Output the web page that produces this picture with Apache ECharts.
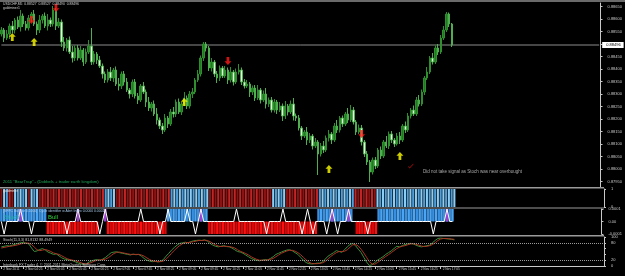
<!DOCTYPE html>
<html><head><meta charset="utf-8">
<script src="https://cdn.jsdelivr.net/npm/echarts@6/dist/echarts.min.js"></script>
<style>html,body{margin:0;padding:0;background:#000;overflow:hidden}#c{width:625px;height:276px}</style>
</head><body><div id="c"></div>
<script>
// prices stored in points (1 point = 0.00001)
const POINT = 0.00001;
const TOTAL_SLOTS = 220;
const openPts = [88540,88556,88524,88540,88572,88556,88596,88568,88612,88580,
 88564,88604,88620,88580,88556,88596,88612,88572,88596,88580,
 88636,88572,88588,88508,88484,88516,88468,88444,88484,88444,
 88476,88428,88468,88492,88428,88460,88436,88412,88380,88356,
 88388,88364,88396,88340,88332,88380,88348,88316,88300,88348,
 88292,88276,88332,88308,88268,88244,88260,88220,88196,88172,
 88156,88204,88180,88228,88220,88268,88228,88260,88284,88252,
 88300,88308,88356,88380,88444,88500,88484,88404,88428,88380,
 88364,88404,88372,88396,88356,88388,88348,88388,88396,88348,
 88332,88340,88308,88324,88284,88316,88276,88300,88260,88276,
 88236,88268,88236,88252,88212,88252,88228,88260,88212,88204,
 88164,88132,88148,88116,88132,88092,88108,88060,88092,88076,
 88124,88140,88116,88172,88156,88204,88180,88220,88196,88236,
 88188,88148,88164,88108,88060,88028,87988,88036,88012,88076,
 88052,88108,88092,88140,88116,88100,88132,88116,88172,88156,
 88212,88236,88220,88276,88260,88308,88364,88388,88444,88428,
 88484,88468,88524,88556,88620,88580];
const highPts = [88568,88564,88556,88582,88592,88604,88610,88636,88622,88592,
 88616,88628,88636,88590,88616,88620,88626,88620,88606,88652,
 88644,88604,88598,88528,88524,88530,88492,88494,88496,88492,
 88484,88482,88516,88564,88472,88468,88452,88422,88390,88400,
 88408,88404,88410,88364,88390,88392,88364,88324,88358,88360,
 88304,88340,88348,88318,88288,88268,88274,88244,88206,88184,
 88220,88212,88240,88248,88278,88282,88268,88308,88294,88312,
 88324,88364,88396,88454,88508,88508,88492,88444,88436,88392,
 88414,88412,88412,88406,88408,88396,88402,88420,88406,88360,
 88356,88348,88334,88336,88336,88324,88314,88324,88286,88288,
 88280,88276,88268,88262,88272,88260,88274,88284,88222,88216,
 88172,88156,88168,88144,88140,88124,88116,88104,88112,88134,
 88156,88148,88184,88196,88212,88214,88228,88244,88256,88248,
 88196,88178,88176,88116,88072,88036,88046,88048,88084,88090,
 88116,88132,88150,88152,88124,88144,88148,88180,88190,88224,
 88244,88254,88288,88296,88318,88372,88408,88452,88464,88494,
 88500,88536,88572,88628,88626,88584];
const lowPts = [88530,88508,88516,88520,88544,88542,88560,88550,88568,88554,
 88554,88588,88572,88536,88544,88582,88564,88554,88568,88570,
 88556,88564,88488,88472,88470,88460,88426,88432,88434,88436,
 88412,88420,88460,88416,88418,88420,88404,88362,88344,88346,
 88352,88348,88332,88314,88320,88334,88308,88282,88288,88282,
 88260,88268,88300,88248,88232,88230,88212,88178,88160,88140,
 88148,88164,88172,88206,88208,88220,88216,88252,88240,88242,
 88284,88300,88348,88370,88432,88470,88392,88390,88368,88344,
 88352,88364,88364,88340,88346,88334,88340,88378,88336,88322,
 88324,88288,88296,88272,88276,88262,88268,88242,88248,88226,
 88226,88220,88228,88192,88200,88214,88220,88194,88192,88154,
 88116,88124,88096,88104,88078,88084,87976,88050,88064,88068,
 88110,88100,88108,88144,88146,88168,88172,88184,88188,88178,
 88136,88140,88094,88048,88016,87948,87978,88000,88004,88040,
 88044,88084,88080,88104,88088,88094,88100,88108,88144,88148,
 88202,88212,88212,88250,88252,88296,88356,88380,88418,88420,
 88456,88460,88516,88548,88568,88488];
const closePts = [88556,88524,88540,88572,88556,88596,88568,88612,88580,88564,
 88604,88620,88580,88556,88596,88612,88572,88596,88580,88636,
 88572,88588,88508,88484,88516,88468,88444,88484,88444,88476,
 88428,88468,88492,88428,88460,88436,88412,88380,88356,88388,
 88364,88396,88340,88332,88380,88348,88316,88300,88348,88292,
 88276,88332,88308,88268,88244,88260,88220,88196,88172,88156,
 88204,88180,88228,88220,88268,88228,88260,88284,88252,88300,
 88308,88356,88380,88444,88500,88484,88404,88428,88380,88364,
 88404,88372,88396,88356,88388,88348,88388,88396,88348,88332,
 88340,88308,88324,88284,88316,88276,88300,88260,88276,88236,
 88268,88236,88252,88212,88252,88228,88260,88212,88204,88164,
 88132,88148,88116,88132,88092,88108,88060,88092,88076,88124,
 88140,88116,88172,88156,88204,88180,88220,88196,88236,88188,
 88148,88164,88108,88060,88028,87988,88036,88012,88076,88052,
 88108,88092,88140,88116,88100,88132,88116,88172,88156,88212,
 88236,88220,88276,88260,88308,88364,88388,88444,88428,88484,
 88468,88524,88556,88620,88580,88496];

// signal arrows
const buyIdx = [4, 12, 67, 120, 146];
const buyPts = [88528, 88508, 88268, 88000, 88052];
const sellIdx = [11, 20, 83, 132];
const sellPts = [88596, 88644, 88432, 88140];
const checkIdx = [150];
const checkPts = [88012];

// time-axis tick labels (every 8 bars)
const tickLabels = ["2 Nov 2011","2 Nov 04:25","2 Nov 05:05","2 Nov 05:45","2 Nov 06:25","2 Nov 07:05",
 "2 Nov 07:45","2 Nov 08:25","2 Nov 09:05","2 Nov 09:45","2 Nov 10:25","2 Nov 11:05","2 Nov 11:45",
 "2 Nov 12:25","2 Nov 13:05","2 Nov 13:45","2 Nov 14:25","2 Nov 15:05","2 Nov 15:45","2 Nov 16:25","2 Nov 17:05"];
const TICK_EVERY = 8;

// panel 2 (pinbar) state runs: B = blue (bull), R = red (bear)
const pinbarRuns = [["R",1],["B",2],["R",2],["B",5],["R",1],["B",3],["R",24],["B",4],["R",20],
 ["B",14],["R",23],["B",5],["R",12],["B",13],["R",8],["B",29]];
// panel 3 (cycle identifier) histogram runs: B = +, R = -, N = none
const cycleRuns = [["B",17],["R",19],["N",3],["R",22],["B",15],["R",40],["B",13],["N",1],["R",8],["B",28]];
const zigUpIdx = [7, 28, 38, 51, 61, 68, 73, 86, 103, 112, 121, 127, 163];
const zigDownIdx = [1, 11, 24, 36, 58, 71, 97, 110, 114, 119, 123, 134, 158];
const purpleIdx = [7, 28, 38, 73, 121, 127, 163];

// stochastic (main, signal)
const stochMain = [66,68,70,69,72,75,78,80,81,79,
 76,62,50,52,57,60,55,48,44,40,
 42,35,28,24,22,20,18,14,10,7,
 5,8,14,18,21,22,20,24,30,38,
 46,48,49,46,44,42,40,38,41,39,
 40,34,26,20,17,15,16,14,16,22,
 34,44,55,64,72,78,80,82,80,84,
 87,88,89,88,90,86,78,72,68,66,
 68,70,67,66,62,56,50,48,44,38,
 32,26,22,20,18,20,22,21,26,32,
 40,44,48,52,55,56,52,46,40,30,
 20,12,8,7,8,10,10,14,24,34,
 40,46,53,50,47,56,66,74,78,70,
 58,47,30,14,2,4,12,20,26,32,
 40,46,52,60,68,66,70,74,76,78,
 76,72,68,66,68,70,72,80,88,95,
 96,95,94,93,92,90];
const stochSignal = [62,64,66,68,69,71,73,76,78,79,
 79,74,65,56,53,55,57,54,50,45,
 42,40,35,30,25,22,20,18,15,11,
 8,7,9,13,17,20,21,22,24,29,
 36,43,47,48,46,44,42,40,40,40,
 40,38,34,28,22,18,16,15,15,17,
 24,33,44,54,63,71,77,80,81,82,
 84,86,88,88,89,88,84,78,73,69,
 67,68,68,67,65,62,56,51,47,43,
 38,32,27,23,20,20,20,21,23,26,
 32,38,44,48,52,54,54,51,46,39,
 30,21,13,9,8,8,9,11,16,24,
 33,40,46,50,50,51,56,65,73,74,
 69,58,45,30,15,7,6,12,19,26,
 33,39,46,53,60,65,68,70,73,76,
 77,75,72,69,67,68,70,74,80,88,
 93,95,95,94,93,92];
const stochLevels = [80, 20];

// ---------- build ----------
const n = closePts.length;
const bid = closePts[n - 1] * POINT;
const cats = Array.from({length: TOTAL_SLOTS}, (_, i) => String(i));
const expand = runs => runs.reduce((a, [s, k]) => a.concat(Array(k).fill(s)), []);
const pinState = expand(pinbarRuns);
const cycState = expand(cycleRuns);
const candle = closePts.map((c, i) => [openPts[i] * POINT, c * POINT, lowPts[i] * POINT, highPts[i] * POINT]);
const zig = closePts.map((_, i) => zigUpIdx.includes(i) ? 0.0001 : (zigDownIdx.includes(i) ? -0.0001 : 0));
const FONT = 'Liberation Sans';
const AX = '#c8c8c8';
const upPath = 'path://M5,0 L10,5 L7,5 L7,11 L3,11 L3,5 L0,5 Z';
const downPath = 'path://M3,0 L7,0 L7,6 L10,6 L5,11 L0,6 L3,6 Z';
const checkPath = 'path://M0,4 L2,7 L8,0 L8,2 L2,9 L0,6 Z';
const tickShow = i => i % TICK_EVERY === 0 && i / TICK_EVERY < tickLabels.length;

const grids = [
  {left: 0, width: 604, top: 3, height: 184},
  {left: 0, width: 604, top: 189, height: 18},
  {left: 0, width: 604, top: 209, height: 25},
  {left: 0, width: 604, top: 237, height: 29}
];
const xAxes = grids.map((g, k) => ({
  type: 'category', gridIndex: k, data: cats, boundaryGap: true,
  axisLine: {show: k === 3, lineStyle: {color: AX}},
  axisTick: {show: k === 3, alignWithLabel: true, interval: (i) => tickShow(i), length: 3, lineStyle: {color: AX}},
  axisLabel: {show: k === 3, interval: (i) => tickShow(i), formatter: (v, i) => tickLabels[i / TICK_EVERY] || '',
    align: 'left', margin: 2, padding: [0, 0, 0, 2], fontSize: 3.2, color: AX, fontFamily: FONT},
  splitLine: {show: false}
}));
const yBase = {position: 'right', axisLine: {show: true, lineStyle: {color: AX}},
  axisTick: {show: true, length: 2, lineStyle: {color: AX}}, splitLine: {show: false}};
const yAxes = [
  Object.assign({}, yBase, {type: 'value', gridIndex: 0, min: 87928 * POINT, max: 88664 * POINT, splitNumber: 15,
    axisLabel: {fontSize: 4, color: AX, margin: 7, fontFamily: FONT, showMinLabel: false, showMaxLabel: false,
      formatter: v => v.toFixed(5)}}),
  Object.assign({}, yBase, {type: 'value', gridIndex: 1, min: 0, max: 1, interval: 1,
    axisLabel: {fontSize: 4, color: AX, margin: 7, fontFamily: FONT}}),
  Object.assign({}, yBase, {type: 'value', gridIndex: 2, min: -0.0001, max: 0.0001, interval: 0.0001,
    axisLabel: {fontSize: 4, color: AX, margin: 7, fontFamily: FONT,
      formatter: v => Math.abs(v) < 1e-9 ? '0.00' : (v > 0 ? '0.0001' : '-0.0001')}}),
  Object.assign({}, yBase, {type: 'value', gridIndex: 3, min: 0, max: 100, interval: 20,
    axisLabel: {fontSize: 4, color: AX, margin: 7, fontFamily: FONT,
      formatter: v => ([0, 20, 80, 100].includes(v) ? String(v) : '')}})
];

const series = [
  {type: 'line', xAxisIndex: 0, yAxisIndex: 0, data: [[0, bid], [TOTAL_SLOTS - 1, bid]], symbol: 'none', z: 1,
    lineStyle: {color: '#8c8c8c', width: 1},
    endLabel: {show: true, distance: 3, formatter: () => bid.toFixed(5), backgroundColor: '#ffffff',
      color: '#000', fontSize: 4, padding: [1, 3, 1, 4], fontFamily: FONT}},
  {type: 'candlestick', xAxisIndex: 0, yAxisIndex: 0, data: candle, barWidth: '72%', z: 2,
    itemStyle: {color: '#1f7a1f', color0: '#e4f6dc', borderColor: '#2f8f2f', borderColor0: '#4fae4f', borderWidth: 1}},
  {type: 'scatter', xAxisIndex: 0, yAxisIndex: 0, symbol: upPath, symbolSize: [7, 8], z: 5,
    itemStyle: {color: '#ffff00'}, data: buyIdx.map((x, k) => [x, buyPts[k] * POINT])},
  {type: 'scatter', xAxisIndex: 0, yAxisIndex: 0, symbol: downPath, symbolSize: [7, 8], z: 5,
    itemStyle: {color: '#ff1a1a'}, data: sellIdx.map((x, k) => [x, sellPts[k] * POINT])},
  {type: 'scatter', xAxisIndex: 0, yAxisIndex: 0, symbol: checkPath, symbolSize: [5, 5], z: 5,
    itemStyle: {color: '#e01010'}, data: checkIdx.map((x, k) => [x, checkPts[k] * POINT])},
  {type: 'bar', xAxisIndex: 1, yAxisIndex: 1, barCategoryGap: '25%',
    data: pinState.map((s, i) => ({value: 1, itemStyle: {color: s === 'B' ? (i % 2 ? '#8ccdf5' : '#4f9fdc') : (i % 2 ? '#c42424' : '#8a1414')}}))},
  {type: 'bar', xAxisIndex: 2, yAxisIndex: 2, barCategoryGap: '10%', barGap: '-100%',
    data: cycState.map((s, i) => s === 'N' ? null : ({value: s === 'B' ? 0.0001 : -0.0001,
      itemStyle: {color: s === 'B' ? (i % 2 ? '#4aa6f5' : '#3a90e0') : (i % 2 ? '#ff1010' : '#d80808')}}))},
  {type: 'bar', xAxisIndex: 2, yAxisIndex: 2, barCategoryGap: '10%', barGap: '-100%', z: 3,
    data: closePts.map((_, i) => purpleIdx.includes(i) ? 0.0001 : null), itemStyle: {color: '#a040d0'}},
  {type: 'line', xAxisIndex: 2, yAxisIndex: 2, data: zig, symbol: 'none', z: 4,
    lineStyle: {color: '#ffffff', width: 1}},
  {type: 'line', xAxisIndex: 3, yAxisIndex: 3, data: stochMain, symbol: 'none',
    lineStyle: {color: '#3a8f3a', width: 1},
    markLine: {silent: true, symbol: ['none', 'none'], label: {show: false},
      lineStyle: {color: '#9a9a9a', width: 1, type: 'dotted'}, data: stochLevels.map(v => ({yAxis: v}))}},
  {type: 'line', xAxisIndex: 3, yAxisIndex: 3, data: stochSignal, symbol: 'none',
    lineStyle: {color: '#a83424', width: 1}}
];

const txt = (x, y, text, fill, size) => ({type: 'text', left: x, top: y, silent: true, z: 100,
  style: {text: text, fill: fill, fontSize: size, fontFamily: FONT}});
const rect = (x, y, w, h, fill) => ({type: 'rect', shape: {x: x, y: y, width: w, height: h}, style: {fill: fill}, silent: true, z: 90});

const option = {
  backgroundColor: '#000000',
  animation: false,
  grid: grids, xAxis: xAxes, yAxis: yAxes, series: series,
  graphic: [
    rect(0, 0, 625, 2, '#6a6a6a'),
    rect(0, 187, 604, 1.5, '#9a9a9a'),
    rect(0, 207.5, 604, 1, '#9a9a9a'),
    rect(0, 235, 604, 1.5, '#9a9a9a'),
    txt(3, 2.5, 'USDCHF,M5  0.88527  0.88527  0.88490  0.88496', '#d0d0d0', 3.4),
    txt(3, 7, 'goldminer1', '#d0d0d0', 3.4),
    txt(3, 179.5, '2011 "BearTrap" - (Dobbels + trader earth kingdom)', '#20a858', 4.2),
    txt(423, 169, 'Did not take signal as Stoch was near overbought', '#a8a8a8', 4.5),
    txt(3, 189.5, 'goldminer', '#e0e0e0', 3.4),
    txt(3, 209.5, '[SFPC BullBar 0.1000]  Cycle identifier w Alert Index 0.0000 0.0001', '#a8c8e8', 3.4),
    txt(4, 214, 'Stoch', '#20b0a0', 6),
    txt(48, 214.5, 'Bull', '#30d040', 6),
    txt(3, 237.5, 'Stoch(11,3,3) 81.8132 88.4949', '#d0d0d0', 3.6),
    txt(3, 262.5, 'Interbank FX Trader 4, \u00a9 2001-2011 MetaQuotes Software Corp.', '#d0d0d0', 3.6)
  ]
};
const chart = echarts.init(document.getElementById('c'), null, {renderer: 'canvas'});
chart.setOption(option);
</script></body></html>
